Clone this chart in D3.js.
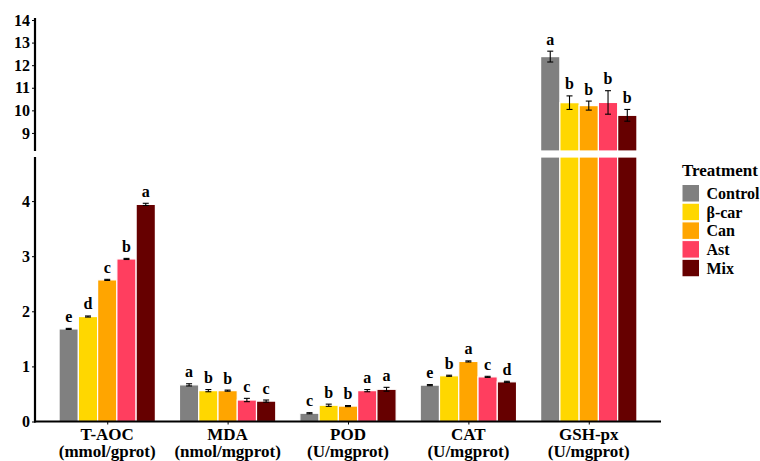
<!DOCTYPE html>
<html>
<head>
<meta charset="utf-8">
<script src="https://cdn.jsdelivr.net/npm/d3@7"></script>
<style>
  body { margin: 0; background: #fff; }
</style>
</head>
<body>
<svg id="chart"></svg>
<script>
// values
var categories = ["T-AOC", "MDA", "POD", "CAT", "GSH-px"];
var units = ["(mmol/gprot)", "(nmol/mgprot)", "(U/mgprot)", "(U/mgprot)", "(U/mgprot)"];
var treatments = ["Control", "β-car", "Can", "Ast", "Mix"];
var colors = ["#808080", "#FFD700", "#FFA500", "#FF3E5F", "#660000"];

var tAOC    = [1.68, 1.905, 2.57, 2.95, 3.94];
var tAOCsd  = [0.01, 0.01, 0.01, 0.01, 0.02];
var tAOCsig = ["e", "d", "c", "b", "a"];
var mda     = [0.665, 0.56, 0.56, 0.39, 0.37];
var mdaSd   = [0.02, 0.02, 0.01, 0.03, 0.02];
var mdaSig  = ["a", "b", "b", "c", "c"];
var pod     = [0.15, 0.295, 0.28, 0.56, 0.585];
var podSd   = [0.01, 0.02, 0.01, 0.02, 0.035];
var podSig  = ["c", "b", "b", "a", "a"];
var cat     = [0.66, 0.83, 1.09, 0.81, 0.72];
var catSd   = [0.01, 0.01, 0.01, 0.01, 0.01];
var catSig  = ["e", "b", "a", "c", "d"];
var gsh     = [12.38, 10.34, 10.21, 10.35, 9.78];
var gshSd   = [0.24, 0.3, 0.2, 0.52, 0.26];
var gshSig  = ["a", "b", "b", "b", "b"];

var lowTicks = [0, 1, 2, 3, 4];
var highTicks = [9, 10, 11, 12, 13, 14];
var breakLow = 4.8, breakHigh = 8.2;

var means = [tAOC, mda, pod, cat, gsh];
var sds = [tAOCsd, mdaSd, podSd, catSd, gshSd];
var sigs = [tAOCsig, mdaSig, podSig, catSig, gshSig];

var data = [];
categories.forEach(function(c, i) {
  treatments.forEach(function(t, j) {
    data.push({cat: c, trt: t, mean: means[i][j], sd: sds[i][j], sig: sigs[i][j]});
  });
});

var width = 760, height = 461;
var left = 35, right = 661;
var serif = "Liberation Serif, Times New Roman, serif";

var svg = d3.select("#chart")
    .attr("width", width)
    .attr("height", height);

// set font straight on each text node
function bold(sel, size) {
  return sel.attr("font-family", serif)
    .attr("font-weight", "bold")
    .attr("font-size", size)
    .attr("fill", "#000");
}

// ggplot style discrete axis: 0.6 units of padding each side
var x = d3.scalePoint()
    .domain(categories)
    .range([left, right])
    .padding(0.6);
var step = x.step();
var xTrt = d3.scaleBand()
    .domain(treatments)
    .range([-0.4 * step, 0.4 * step]);

var yLow = d3.scaleLinear().domain([0, breakLow]).range([421.5, 157]);
var yHigh = d3.scaleLinear().domain([breakHigh, 14]).range([151, 20]);

var color = d3.scaleOrdinal().domain(treatments).range(colors);

function yOf(v) { return v > breakLow ? yHigh(v) : yLow(v); }

var bars = svg.append("g");

// bottom panel part of each bar
bars.selectAll(".barLow")
    .data(data)
  .enter().append("rect")
    .attr("x", function(d) { return x(d.cat) + xTrt(d.trt); })
    .attr("width", xTrt.bandwidth())
    .attr("y", function(d) { return yLow(Math.min(d.mean, breakLow)); })
    .attr("height", function(d) { return yLow(0) - yLow(Math.min(d.mean, breakLow)); })
    .style("fill", function(d) { return color(d.trt); })
    .style("stroke", "#fff")
    .style("stroke-width", 1.2);

// top panel part for bars above the break
bars.selectAll(".barHigh")
    .data(data.filter(function(d) { return d.mean > breakHigh; }))
  .enter().append("rect")
    .attr("x", function(d) { return x(d.cat) + xTrt(d.trt); })
    .attr("width", xTrt.bandwidth())
    .attr("y", function(d) { return yHigh(d.mean); })
    .attr("height", function(d) { return yHigh(breakHigh) - yHigh(d.mean); })
    .style("fill", function(d) { return color(d.trt); })
    .style("stroke", "#fff")
    .style("stroke-width", 1.2);

// error bars
var err = svg.append("g").style("stroke", "#000").style("stroke-width", 1.1);
data.forEach(function(d) {
  var cx = x(d.cat) + xTrt(d.trt) + xTrt.bandwidth() / 2;
  var y1 = yOf(d.mean + d.sd), y0 = yOf(d.mean - d.sd);
  err.append("line").attr("x1", cx).attr("x2", cx).attr("y1", y0).attr("y2", y1);
  err.append("line").attr("x1", cx - 3).attr("x2", cx + 3).attr("y1", y0).attr("y2", y0);
  err.append("line").attr("x1", cx - 3).attr("x2", cx + 3).attr("y1", y1).attr("y2", y1);
});

// significance letters
bold(svg.append("g").selectAll("text")
    .data(data)
  .enter().append("text")
    .attr("x", function(d) { return x(d.cat) + xTrt(d.trt) + xTrt.bandwidth() / 2; })
    .attr("y", function(d) { return yOf(d.mean + d.sd) - 6.5; })
    .attr("text-anchor", "middle")
    .text(function(d) { return d.sig; }), 16);

// y axes (two panels)
var axLow = svg.append("g")
    .attr("transform", "translate(" + left + ",0)")
    .call(d3.axisLeft(yLow).tickValues(lowTicks).tickFormat(d3.format("d")).tickSize(3).tickPadding(2));
var axHigh = svg.append("g")
    .attr("transform", "translate(" + left + ",0)")
    .call(d3.axisLeft(yHigh).tickValues(highTicks).tickFormat(d3.format("d")).tickSize(3).tickPadding(2));
[axLow, axHigh].forEach(function(a) {
  a.attr("font-family", serif);
  a.select(".domain").remove();
  a.selectAll("line").style("stroke", "#000");
  bold(a.selectAll("text"), 16);
});
svg.append("line").attr("x1", left).attr("x2", left).attr("y1", yLow(0) + 1).attr("y2", yLow(breakLow))
    .style("stroke", "#000").style("stroke-width", 2.2);
svg.append("line").attr("x1", left).attr("x2", left).attr("y1", yHigh(breakHigh)).attr("y2", yHigh(14) - 2)
    .style("stroke", "#000").style("stroke-width", 2.2);

// x axis
var xAxis = svg.append("g")
    .attr("transform", "translate(0," + yLow(0) + ")")
    .call(d3.axisBottom(x).tickSize(3).tickFormat(""));
xAxis.select(".domain").remove();
xAxis.selectAll("line").style("stroke", "#000");
svg.append("line").attr("x1", left - 1).attr("x2", right).attr("y1", yLow(0)).attr("y2", yLow(0))
    .style("stroke", "#000").style("stroke-width", 2.2);

bold(svg.append("g").selectAll("text")
    .data(categories)
  .enter().append("text")
    .attr("x", function(d) { return x(d); })
    .attr("y", 440)
    .attr("text-anchor", "middle")
    .text(function(d) { return d; }), 17);
bold(svg.append("g").selectAll("text")
    .data(units)
  .enter().append("text")
    .attr("x", function(d, i) { return x(categories[i]); })
    .attr("y", 456.5)
    .attr("text-anchor", "middle")
    .text(function(d) { return d; }), 17);

// legend
var legend = svg.append("g").attr("transform", "translate(682,0)");
bold(legend.append("text")
    .attr("x", 0)
    .attr("y", 176)
    .text("Treatment"), 17);
var item = legend.selectAll(".item")
    .data(treatments)
  .enter().append("g")
    .attr("transform", function(d, i) { return "translate(0," + (184.5 + i * 18.7) + ")"; });
item.append("rect")
    .attr("width", 17.5)
    .attr("height", 17.5)
    .style("fill", function(d) { return color(d); })
    .style("stroke", "#fff")
    .style("stroke-width", 1);
bold(item.append("text")
    .attr("x", 24.5)
    .attr("y", 14.5)
    .text(function(d) { return d; }), 16);
</script>
</body>
</html>
